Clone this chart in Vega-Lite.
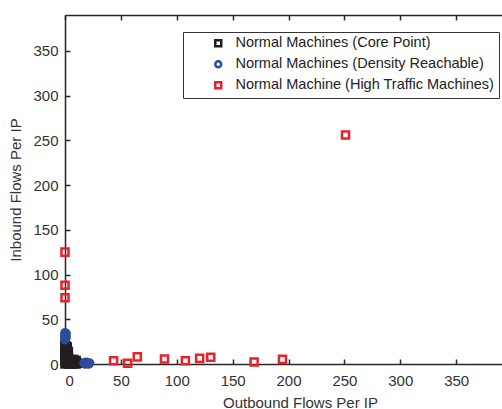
{
  "$schema": "https://vega.github.io/schema/vega-lite/v6.json",
  "width": 437,
  "height": 349,
  "autosize": {"type": "none"},
  "padding": {"left": 65, "top": 15, "right": 0, "bottom": 45},
  "background": "white",
  "config": {
    "view": {"stroke": null},
    "font": "Liberation Sans",
    "axis": {
      "domainColor": "#262626", "domainWidth": 1.5,
      "tickColor": "#262626", "tickWidth": 1.5, "tickSize": -5,
      "labelFont": "Liberation Sans", "labelFontSize": 15, "labelColor": "#333333",
      "titleFont": "Liberation Sans", "titleFontSize": 15, "titleColor": "#333333", "titleFontWeight": "normal",
      "grid": false
    }
  },
  "data": {
    "values": [
      {"x": 0, "y": 0, "c": "Normal Machines (Core Point)"},
      {"x": 0, "y": 3, "c": "Normal Machines (Core Point)"},
      {"x": 0, "y": 6, "c": "Normal Machines (Core Point)"},
      {"x": 0, "y": 9, "c": "Normal Machines (Core Point)"},
      {"x": 0, "y": 12, "c": "Normal Machines (Core Point)"},
      {"x": 0, "y": 15, "c": "Normal Machines (Core Point)"},
      {"x": 0, "y": 18, "c": "Normal Machines (Core Point)"},
      {"x": 0, "y": 21, "c": "Normal Machines (Core Point)"},
      {"x": 0, "y": 23, "c": "Normal Machines (Core Point)"},
      {"x": 1, "y": 1, "c": "Normal Machines (Core Point)"},
      {"x": 1, "y": 5, "c": "Normal Machines (Core Point)"},
      {"x": 1, "y": 10, "c": "Normal Machines (Core Point)"},
      {"x": 1, "y": 16, "c": "Normal Machines (Core Point)"},
      {"x": 1, "y": 20, "c": "Normal Machines (Core Point)"},
      {"x": 2, "y": 2, "c": "Normal Machines (Core Point)"},
      {"x": 2, "y": 7, "c": "Normal Machines (Core Point)"},
      {"x": 2, "y": 13, "c": "Normal Machines (Core Point)"},
      {"x": 2, "y": 19, "c": "Normal Machines (Core Point)"},
      {"x": 3, "y": 0, "c": "Normal Machines (Core Point)"},
      {"x": 3, "y": 4, "c": "Normal Machines (Core Point)"},
      {"x": 3, "y": 8, "c": "Normal Machines (Core Point)"},
      {"x": 3, "y": 14, "c": "Normal Machines (Core Point)"},
      {"x": 4, "y": 1, "c": "Normal Machines (Core Point)"},
      {"x": 4, "y": 5, "c": "Normal Machines (Core Point)"},
      {"x": 5, "y": 0, "c": "Normal Machines (Core Point)"},
      {"x": 5, "y": 3, "c": "Normal Machines (Core Point)"},
      {"x": 6, "y": 2, "c": "Normal Machines (Core Point)"},
      {"x": 6, "y": 5, "c": "Normal Machines (Core Point)"},
      {"x": 7, "y": 0, "c": "Normal Machines (Core Point)"},
      {"x": 7, "y": 4, "c": "Normal Machines (Core Point)"},
      {"x": 8, "y": 1, "c": "Normal Machines (Core Point)"},
      {"x": 8, "y": 5, "c": "Normal Machines (Core Point)"},
      {"x": 9, "y": 2, "c": "Normal Machines (Core Point)"},
      {"x": 10, "y": 0, "c": "Normal Machines (Core Point)"},
      {"x": 10, "y": 4, "c": "Normal Machines (Core Point)"},
      {"x": 11, "y": 1, "c": "Normal Machines (Core Point)"},
      {"x": 0, "y": 27, "c": "Normal Machines (Density Reachable)"},
      {"x": 0, "y": 29, "c": "Normal Machines (Density Reachable)"},
      {"x": 0, "y": 31, "c": "Normal Machines (Density Reachable)"},
      {"x": 0, "y": 33, "c": "Normal Machines (Density Reachable)"},
      {"x": 0, "y": 35, "c": "Normal Machines (Density Reachable)"},
      {"x": 1, "y": 30, "c": "Normal Machines (Density Reachable)"},
      {"x": 1, "y": 34, "c": "Normal Machines (Density Reachable)"},
      {"x": 17, "y": 1, "c": "Normal Machines (Density Reachable)"},
      {"x": 18, "y": 0, "c": "Normal Machines (Density Reachable)"},
      {"x": 19, "y": 2, "c": "Normal Machines (Density Reachable)"},
      {"x": 20, "y": 1, "c": "Normal Machines (Density Reachable)"},
      {"x": 21, "y": 0, "c": "Normal Machines (Density Reachable)"},
      {"x": 22, "y": 1, "c": "Normal Machines (Density Reachable)"},
      {"x": 0, "y": 125, "c": "Normal Machine (High Traffic Machines)"},
      {"x": 0, "y": 88, "c": "Normal Machine (High Traffic Machines)"},
      {"x": 0, "y": 74, "c": "Normal Machine (High Traffic Machines)"},
      {"x": 43.5, "y": 3.7, "c": "Normal Machine (High Traffic Machines)"},
      {"x": 56, "y": 0.8, "c": "Normal Machine (High Traffic Machines)"},
      {"x": 64.7, "y": 8, "c": "Normal Machine (High Traffic Machines)"},
      {"x": 89, "y": 5.6, "c": "Normal Machine (High Traffic Machines)"},
      {"x": 107.7, "y": 3.7, "c": "Normal Machine (High Traffic Machines)"},
      {"x": 120.5, "y": 6.3, "c": "Normal Machine (High Traffic Machines)"},
      {"x": 130.4, "y": 7.5, "c": "Normal Machine (High Traffic Machines)"},
      {"x": 169.2, "y": 2.2, "c": "Normal Machine (High Traffic Machines)"},
      {"x": 194.6, "y": 5.2, "c": "Normal Machine (High Traffic Machines)"},
      {"x": 251, "y": 256, "c": "Normal Machine (High Traffic Machines)"}
    ]
  },
  "layer": [
    {
      "mark": {"type": "point", "filled": false, "strokeWidth": 2.5, "size": 50, "opacity": 1},
      "encoding": {
        "x": {"field": "x", "type": "quantitative", "scale": {"domain": [0, 391], "nice": false, "zero": false},
          "axis": {"orient": "bottom", "values": [0, 50, 100, 150, 200, 250, 300, 350], "labelPadding": 14, "title": "Outbound Flows Per IP", "titleX": 235, "titleY": 43, "titleBaseline": "alphabetic", "titleAnchor": "middle"}},
        "y": {"field": "y", "type": "quantitative", "scale": {"domain": [0, 390], "nice": false, "zero": false},
          "axis": {"orient": "left", "values": [0, 50, 100, 150, 200, 250, 300, 350], "labelPadding": 12, "title": "Inbound Flows Per IP", "titleX": -42, "titleY": 174.5, "titleAnchor": "middle"}},
        "color": {"field": "c", "type": "nominal",
          "scale": {"domain": ["Normal Machines (Core Point)", "Normal Machines (Density Reachable)", "Normal Machine (High Traffic Machines)"], "range": ["#231f20", "#2e4c9e", "#e8222b"]},
          "legend": {"title": null, "orient": "none", "legendX": 118, "legendY": 17, "strokeColor": "#333333", "fillColor": "white", "padding": 4, "symbolOffset": 24, "labelOffset": 10, "labelFontSize": 14.5, "labelColor": "#222222", "labelFont": "Liberation Sans", "rowPadding": 4, "symbolSize": 36, "symbolStrokeWidth": 2.5, "labelLimit": 400}},
        "shape": {"field": "c", "type": "nominal",
          "scale": {"domain": ["Normal Machines (Core Point)", "Normal Machines (Density Reachable)", "Normal Machine (High Traffic Machines)"], "range": ["square", "circle", "square"]},
          "legend": null}
      }
    },
    {
      "mark": {"type": "rule", "opacity": 0},
      "encoding": {
        "x": {"field": "x", "type": "quantitative",
          "axis": {"orient": "top", "values": [0, 50, 100, 150, 200, 250, 300, 350], "labels": false, "title": null}}
      }
    }
  ],
  "resolve": {"axis": {"x": "independent"}}
}
